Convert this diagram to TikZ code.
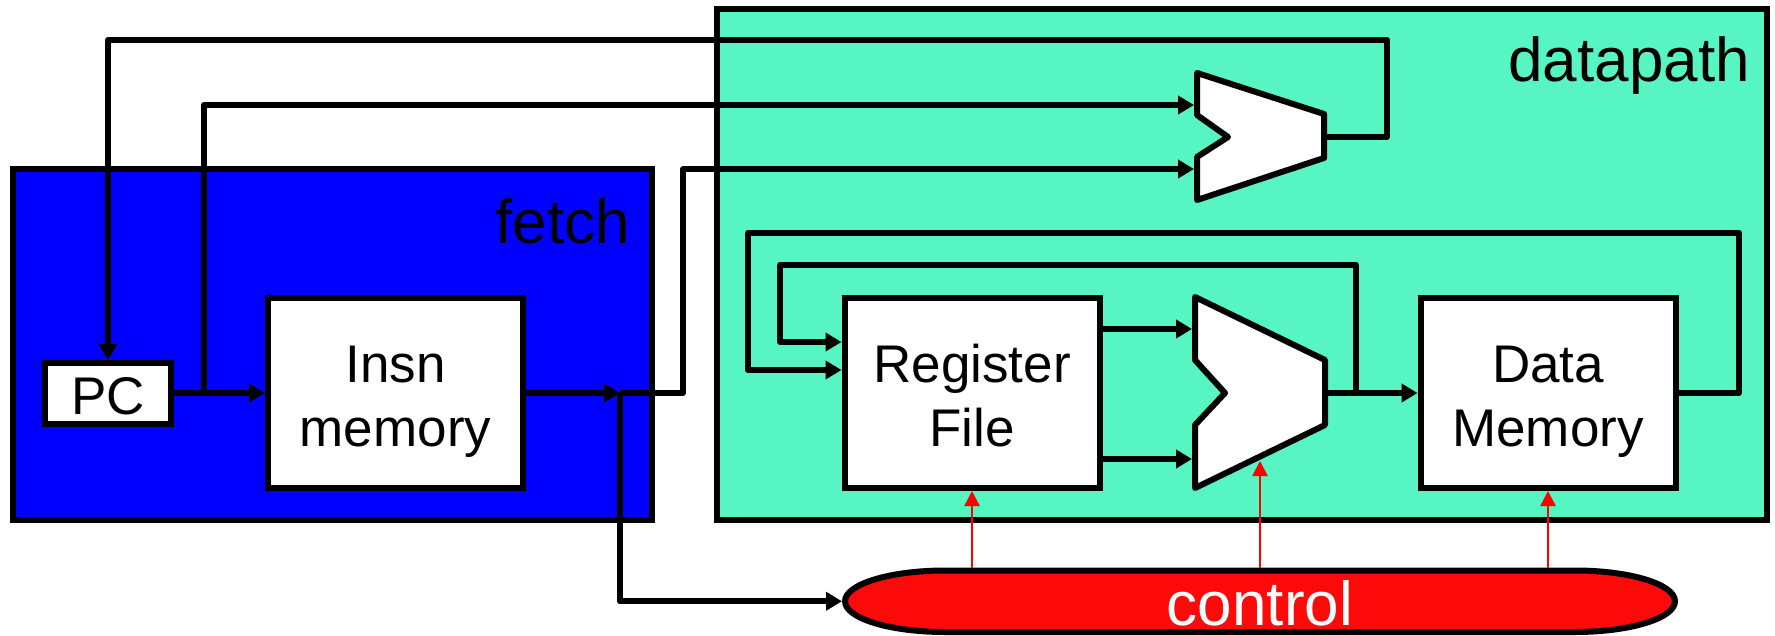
\documentclass[tikz,border=0pt]{standalone}
\usepackage{fontspec}
\setmainfont{Liberation Sans}
\usetikzlibrary{arrows.meta}
\definecolor{dpteal}{RGB}{86,245,195}
\definecolor{fetchblue}{RGB}{0,0,255}
\definecolor{ctlred}{RGB}{255,10,10}
\begin{document}
\begin{tikzpicture}[x=1pt,y=-1pt,
  region/.style={draw=black,line width=6pt,inner sep=0pt,outer sep=0pt},
  box/.style={draw=black,fill=white,line width=6pt,inner sep=0pt,outer sep=3pt},
  alu/.style={draw=black,fill=white,line width=6pt,line join=round},
  wire/.style={line width=6pt,line join=round,-{Triangle[length=16pt,width=18pt]}},
  ctlarrow/.style={draw=red,line width=2.5pt,-{Triangle[length=15pt,width=15pt]}},
  lbl/.style={font=\fontsize{53}{60}\selectfont,inner sep=0pt,anchor=base},
  big/.style={font=\fontsize{62}{70}\selectfont,inner sep=0pt}]
\useasboundingbox (0,0) rectangle (1775,635);

% regions
\node[region,fill=dpteal,minimum width=1050.5,minimum height=511] (datapath) at (1241.75,264.5) {};
\node[region,fill=fetchblue,minimum width=639,minimum height=351] (fetch) at (332.5,344.5) {};
\node[big,anchor=base east] (fetchlbl) at (630,243) {fetch};
\node[big,anchor=base east] (dplbl) at (1750,81) {datapath};

% boxes
\node[box,minimum width=126,minimum height=61] (pc) at (108,393.5) {};
\node[lbl] (pclbl) at (108,414) {PC};
\node[box,minimum width=255,minimum height=190] (insn) at (395.5,393) {};
\node[lbl] (insn1) at (395.5,382.6) {Insn};
\node[lbl] (insn2) at (395.5,446) {memory};
\node[box,minimum width=255,minimum height=190] (rf) at (972,393) {};
\node[lbl] (rf1) at (972,382.6) {Register};
\node[lbl] (rf2) at (972,446) {File};
\node[box,minimum width=255,minimum height=190] (dm) at (1548,393) {};
\node[lbl] (dm1) at (1548,382.6) {Data};
\node[lbl] (dm2) at (1548,446) {Memory};

% ALUs
\draw[alu] (1197,73) -- (1324,114) -- (1324,158) -- (1197,200) -- (1197,157) -- (1228,137) -- (1197,115) -- cycle;
\draw[alu] (1195,297) -- (1325,360) -- (1325,425) -- (1195,488) -- (1195,425) -- (1225,393) -- (1195,360) -- cycle;
\coordinate (a1in1) at (1194,105);
\coordinate (a1in2) at (1194,169);
\coordinate (a1out) at (1327,137);
\coordinate (a2in1) at (1192,329);
\coordinate (a2in2) at (1192,459);
\coordinate (a2out) at (1328,393);
\coordinate (a2ctl) at (1260,461);

% control
\node[inner sep=0pt,outer sep=3pt,minimum width=830,minimum height=61.5] (ctrl) at (1260,601.25) {};
\draw[fill=ctlred,line width=6pt] (945,570.5) -- (1575,570.5)
  arc[start angle=270,end angle=450,x radius=100,y radius=30.75] -- (945,632)
  arc[start angle=90,end angle=270,x radius=100,y radius=30.75] -- cycle;
\node[big,anchor=base,text=white] (ctrllbl) at (1260,625) {control};

% junctions
\coordinate (j1) at (204,393);
\coordinate (j2) at (620,393);
\coordinate (j3) at (1356,393);

% wires
\draw[wire] (a1out) -| (1387,40) -| (pc.north);
\draw[wire] (j1) |- (a1in1);
\draw[wire] (pc.east |- j1) -- (insn.west |- j1);
\draw[wire] (insn) -- (j2);
\draw[wire] (j2) -- (683,393) |- (a1in2);
\draw[wire] (j2) |- (ctrl.west);
\draw[wire] (rf.east |- a2in1) -- (a2in1);
\draw[wire] (rf.east |- a2in2) -- (a2in2);
\draw[wire] (a2out) -- (dm);
\draw[wire] (j3) |- (780,265) |- (rf.west |- 0,342);
\draw[wire] (dm.east) -- (1739,393) |- (748,233) |- (rf.west |- 0,370);

% control signals
\draw[ctlarrow] (ctrl.north -| rf.south) -- (rf.south);
\draw[ctlarrow] (ctrl.north -| a2ctl) -- (a2ctl);
\draw[ctlarrow] (ctrl.north -| dm.south) -- (dm.south);
\end{tikzpicture}
\end{document}
